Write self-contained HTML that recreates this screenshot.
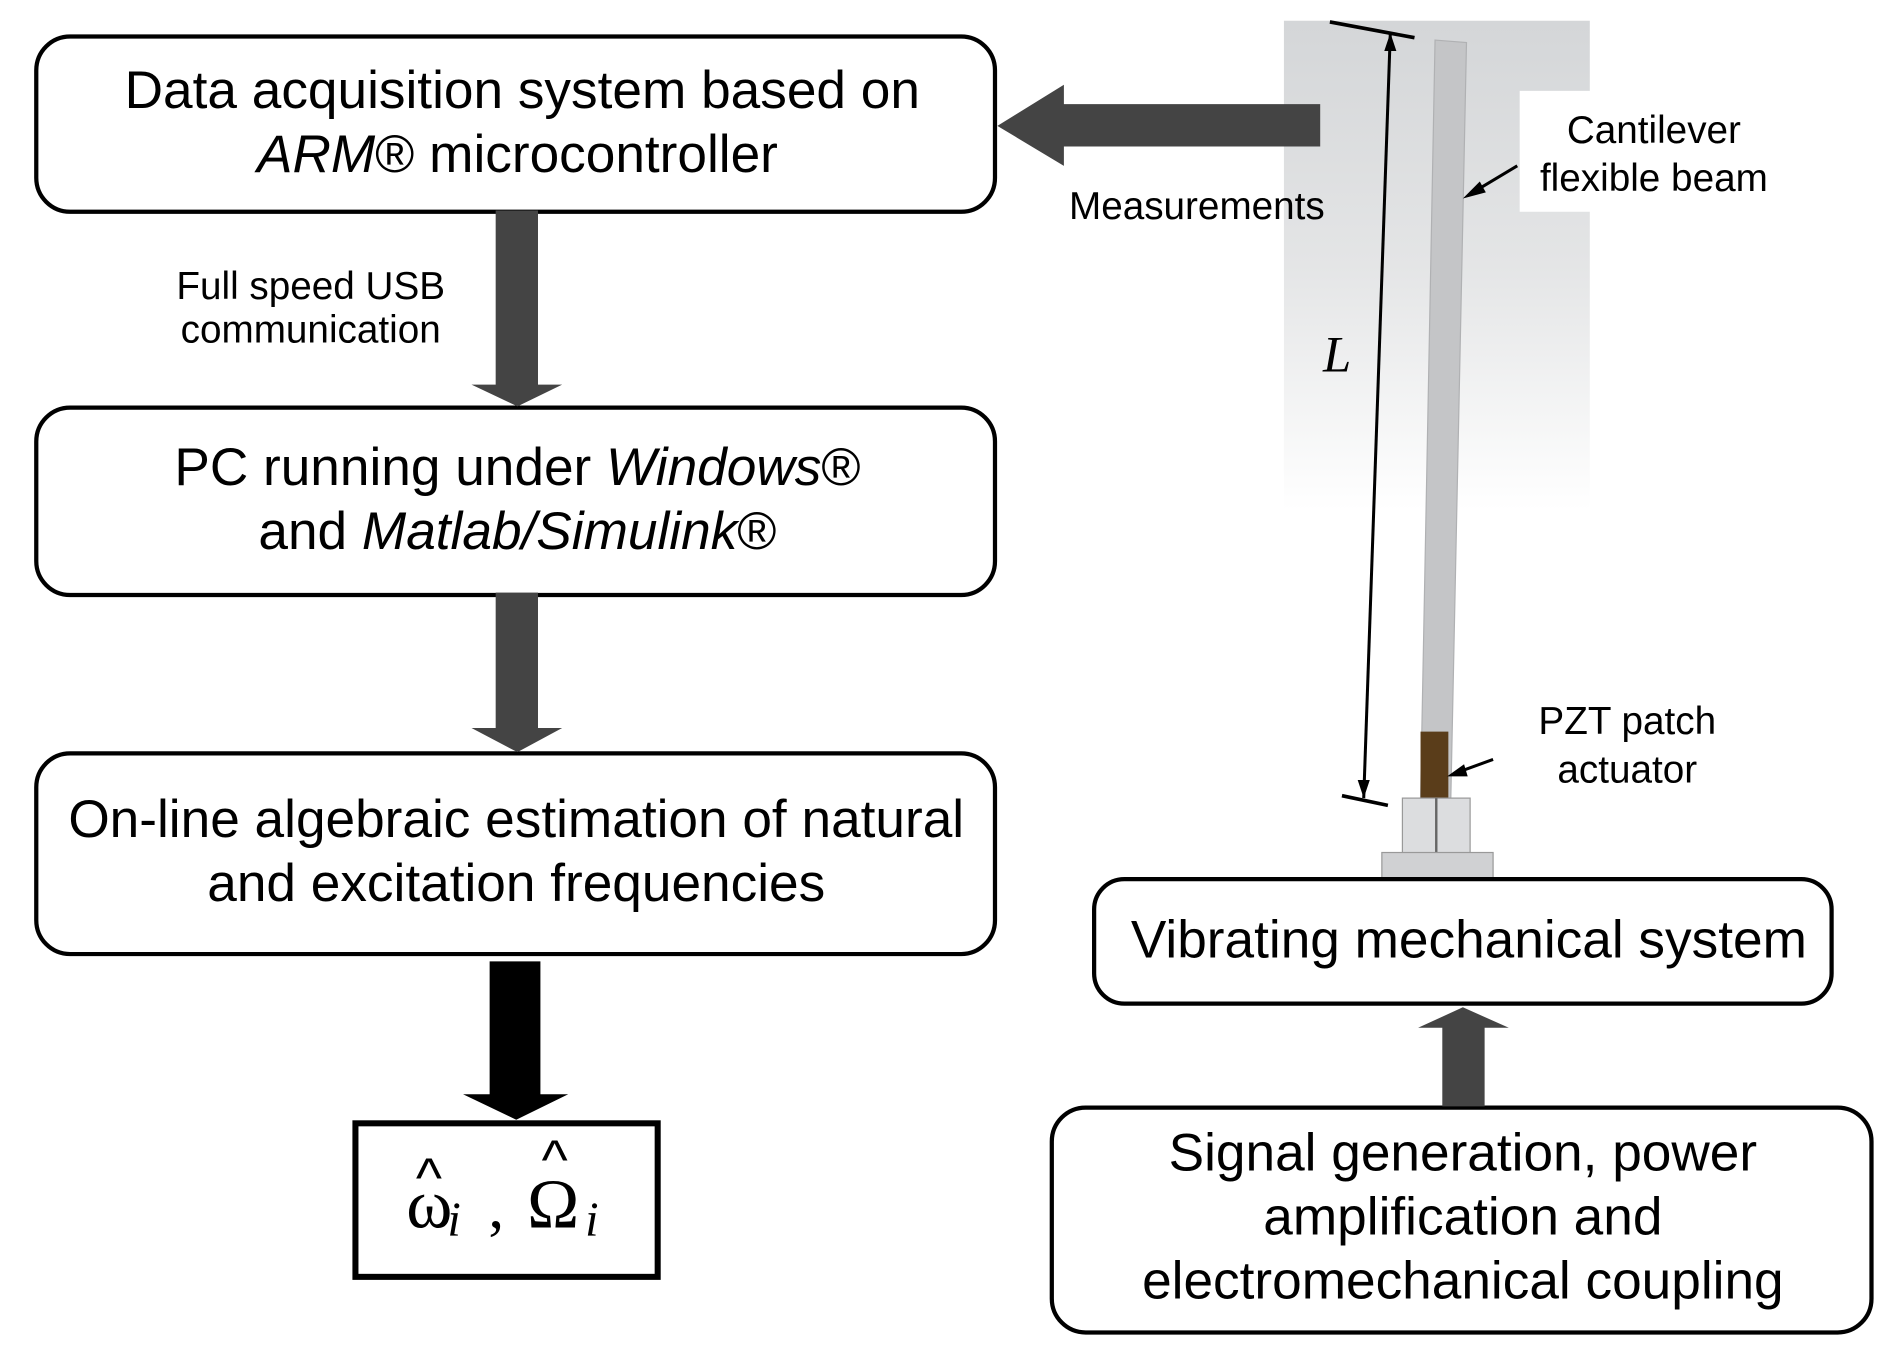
<!DOCTYPE html>
<html><head><meta charset="utf-8"><style>
html,body{margin:0;padding:0;background:#fff;width:1886px;height:1352px;overflow:hidden}
svg{display:block}
text{font-family:"Liberation Sans",Arial,sans-serif;fill:#000}
</style></head><body>
<svg width="1886" height="1352" viewBox="0 0 1560 1118" xmlns="http://www.w3.org/2000/svg">
<defs>
<linearGradient id="bg" x1="0" y1="0" x2="0" y2="1">
<stop offset="0" stop-color="#d4d6d8"/><stop offset="0.5" stop-color="#e4e5e6"/><stop offset="1" stop-color="#ffffff"/>
</linearGradient>
</defs>
<rect x="1062" y="17" width="253" height="405" fill="url(#bg)"/>
<rect x="1257" y="75" width="243" height="100" fill="#fff"/>
<polygon points="1187,33 1213,35 1200,662 1175,660" fill="#c4c5c7" stroke="#b0b1b3" stroke-width="1"/>
<rect x="1175" y="605" width="23" height="56" fill="#5a3d1a"/>
<rect x="1160" y="660" width="56" height="50" fill="#dcdddf" stroke="#999" stroke-width="1"/>
<line x1="1188" y1="660" x2="1188" y2="710" stroke="#666" stroke-width="2"/>
<rect x="1143" y="705" width="92" height="22" fill="#d0d1d3" stroke="#999" stroke-width="1"/>
<line x1="1150" y1="27" x2="1128" y2="660" stroke="#000" stroke-width="2.5"/>
<line x1="1100" y1="18" x2="1170" y2="31" stroke="#000" stroke-width="3"/>
<line x1="1110" y1="658" x2="1148" y2="666" stroke="#000" stroke-width="3"/>
<polygon points="1150,27 1145,42 1155,42" fill="#000"/>
<polygon points="1128,660 1123,645 1133,645" fill="#000"/>
<text x="1106" y="307" font-style="italic" font-size="42" text-anchor="middle" style="font-family:'Liberation Serif',serif">L</text>
<text x="1368" y="118" font-size="32" text-anchor="middle">Cantilever</text>
<text x="1368" y="158" font-size="32" text-anchor="middle">flexible beam</text>
<line x1="1255" y1="137" x2="1215" y2="161" stroke="#000" stroke-width="2.5"/>
<polygon points="1210,164 1224,150 1229,159" fill="#000"/>
<text x="1346" y="607" font-size="32" text-anchor="middle">PZT patch</text>
<text x="1346" y="647" font-size="32" text-anchor="middle">actuator</text>
<line x1="1235" y1="628" x2="1202" y2="640" stroke="#000" stroke-width="2.5"/>
<polygon points="1197,642 1211,632 1214,642" fill="#000"/>
<polygon points="1092,86 880,86 880,70 825,104 880,137 880,121 1092,121" fill="#444"/>
<text x="990" y="181" font-size="32" text-anchor="middle">Measurements</text>
<g fill="#fff" stroke="#000" stroke-width="3.5">
<rect x="30" y="30" width="793" height="145" rx="28"/>
<rect x="30" y="337" width="793" height="155" rx="28"/>
<rect x="30" y="623" width="793" height="166" rx="28"/>
<rect x="905" y="727" width="610" height="103" rx="25"/>
<rect x="870" y="916" width="678" height="186" rx="28"/>
<rect x="294" y="929" width="250" height="127" rx="0" stroke-width="5"/>
</g>
<text x="432" y="89" font-size="44" text-anchor="middle">Data acquisition system based on</text>
<text x="428" y="142" font-size="44" text-anchor="middle"><tspan font-style="italic">ARM</tspan>® microcontroller</text>
<text x="428" y="401" font-size="44" text-anchor="middle">PC running under <tspan font-style="italic">Windows</tspan>®</text>
<text x="428" y="454" font-size="44" text-anchor="middle">and <tspan font-style="italic">Matlab/Simulink</tspan>®</text>
<text x="427" y="692" font-size="44" text-anchor="middle">On-line algebraic estimation of natural</text>
<text x="427" y="745" font-size="44" text-anchor="middle">and excitation frequencies</text>
<text x="1215" y="792" font-size="44" text-anchor="middle">Vibrating mechanical system</text>
<text x="1210" y="968" font-size="44" text-anchor="middle">Signal generation, power</text>
<text x="1210" y="1021" font-size="44" text-anchor="middle">amplification and</text>
<text x="1210" y="1074" font-size="44" text-anchor="middle">electromechanical coupling</text>
<text x="257" y="247" font-size="32" text-anchor="middle">Full speed USB</text>
<text x="257" y="283" font-size="32" text-anchor="middle">communication</text>
<text x="336" y="1015" font-size="58" style="font-family:'Liberation Serif',serif">ω</text>
<text x="344" y="990" font-size="46" style="font-family:'Liberation Sans',sans-serif">^</text>
<text x="370" y="1022" font-size="40" font-style="italic" style="font-family:'Liberation Serif',serif">i</text>
<text x="404" y="1015" font-size="52" style="font-family:'Liberation Serif',serif">,</text>
<text x="436" y="1015" font-size="58" style="font-family:'Liberation Serif',serif">Ω</text>
<text x="448" y="975" font-size="46" style="font-family:'Liberation Sans',sans-serif">^</text>
<text x="484" y="1022" font-size="40" font-style="italic" style="font-family:'Liberation Serif',serif">i</text>
<polygon points="410,174 445,174 445,318 465,318 428,336 390,318 410,318" fill="#444"/>
<polygon points="410,490 445,490 445,602 465,602 428,622 390,602 410,602" fill="#444"/>
<polygon points="405,795 447,795 447,905 470,905 427,926 383,905 405,905" fill="#000"/>
<polygon points="1193,915 1228,915 1228,850 1248,850 1210,833 1173,850 1193,850" fill="#444"/>
</svg>
</body></html>
